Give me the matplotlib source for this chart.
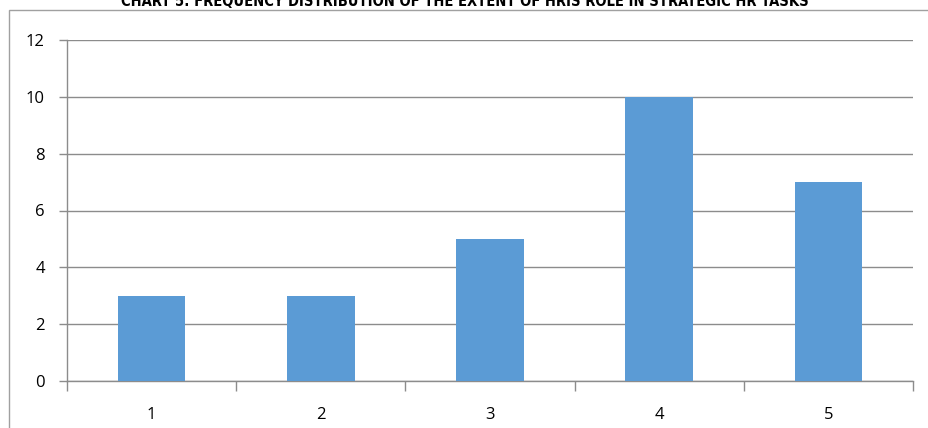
import numpy as np
import matplotlib
matplotlib.use("Agg")
import matplotlib.pyplot as plt
from matplotlib.patches import Rectangle

# 频数分布数据
categories = ["1", "2", "3", "4", "5"]
counts = [3, 3, 5, 10, 7]
yticks = [0, 2, 4, 6, 8, 10, 12]
title = "CHART 5: FREQUENCY DISTRIBUTION OF THE EXTENT OF HRIS ROLE IN STRATEGIC HR TASKS"

BAR = "#5B9BD5"
GRID = "#8C8C8C"

plt.rcParams["font.family"] = ["Open Sans", "DejaVu Sans"]

fig = plt.figure(figsize=(9.29, 4.28), dpi=100)
fig.patches.append(Rectangle((9 / 929, -0.1), 1.2, 1 - 10 / 428 + 0.1,
                             transform=fig.transFigure, fill=False,
                             edgecolor="#A0A0A0", lw=1.0))

ax = fig.add_axes([67 / 929, 1 - 381 / 428, (913 - 67) / 929, (381 - 40) / 428])
x = np.arange(1, len(categories) + 1)
ax.bar(x, counts, width=0.4, color=BAR, zorder=3)

ax.set_xlim(0.5, len(categories) + 0.5)
ax.set_ylim(0, 12)
ax.set_yticks(yticks)
ax.set_yticklabels([str(v) for v in yticks], fontsize=12)
ax.set_xticks(x)
ax.set_xticklabels(categories, fontsize=12)
ax.set_xticks(np.arange(0.5, len(categories) + 1), minor=True)
ax.tick_params(axis="x", which="major", length=0, pad=19)
ax.tick_params(axis="x", which="minor", length=7, color=GRID, width=1)
ax.tick_params(axis="y", length=6, color=GRID, width=1, pad=10)

ax.grid(True, axis="y", color=GRID, lw=1, zorder=0)
for s in ["top", "right"]:
    ax.spines[s].set_visible(False)
for s in ["left", "bottom"]:
    ax.spines[s].set_color(GRID)
    ax.spines[s].set_linewidth(1)

fig.text(0.5, 1 - 1 / 428, title, ha="center", va="center", fontsize=10.5,
         fontweight="bold", fontstretch="condensed", family=["DejaVu Sans"])

fig.savefig("out.png", dpi=100)
